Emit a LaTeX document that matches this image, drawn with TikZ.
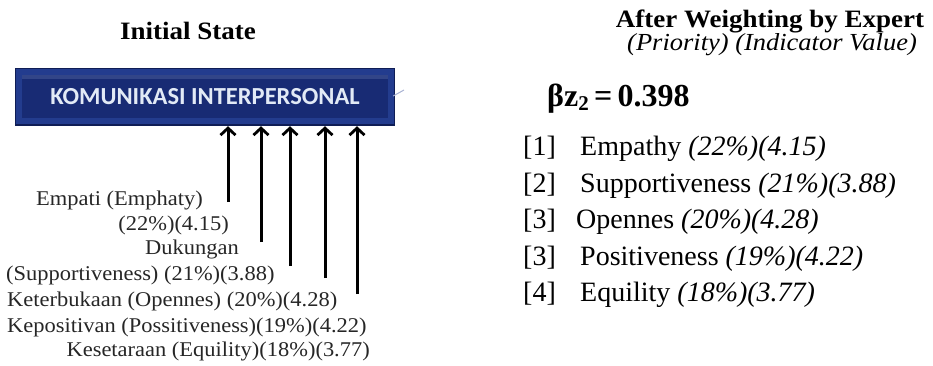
\documentclass[tikz,border=0pt]{standalone}
\usepackage{fontspec}
\setmainfont{Liberation Serif}
\newfontfamily\headfont[FakeStretch=1.08]{Liberation Serif}
\newfontfamily\labelfont[FakeStretch=1.07]{Liberation Serif}
\newfontfamily\boxfont{Carlito}
\usetikzlibrary{arrows.meta}
\definecolor{navyout}{HTML}{233C8E}
\definecolor{navyin}{HTML}{182B74}
\definecolor{navyrim}{HTML}{0F1D55}
\definecolor{boxtext}{HTML}{E2EAF6}
\definecolor{labelgray}{HTML}{262626}
\tikzset{
  heading/.style={inner sep=0pt, font=\headfont\bfseries\fontsize{25}{28}\selectfont},
  subheading/.style={inner sep=0pt, font=\headfont\itshape\fontsize{24.5}{27}\selectfont},
  factor/.style={inner sep=0pt, text=labelgray, font=\labelfont\fontsize{21}{24}\selectfont},
  rank/.style={inner sep=0pt, font=\fontsize{28}{31}\selectfont},
  link/.style={line width=3pt, -{Straight Barb[length=7pt,width=15pt,line width=2.8pt]}}
}
\begin{document}
\begin{tikzpicture}[x=1pt,y=-1pt]
\useasboundingbox (0,0) rectangle (933,365);

% headings
\node[heading] (h1) at (188,31) {Initial State};
\node[heading] (h2) at (770,21) {After Weighting by Expert};
\node[subheading] (h3) at (772,45) {(Priority) (Indicator Value)};

% construct box with a bevelled frame
\fill[navyrim] (15,68) rectangle (395,126);
\fill[navyout] (16,69) rectangle (394,124);
\fill[navyin] (22,75) rectangle (388,118);
\fill[navyout!70!white, opacity=0.35] (22,75) rectangle (388,79);
\node[inner sep=0pt, minimum width=380pt, minimum height=58pt,
      text=boxtext, font=\boxfont\bfseries\fontsize{24.5}{27}\selectfont]
      (box) at (205,97) {KOMUNIKASI INTERPERSONAL};
\coordinate (cut) at (404,90);
\draw[navyout!40!white, line width=1pt] (box.east) ++(-2pt,1pt) -- (cut);

% indicator labels
\node[factor, anchor=east] (f1a) at (203,200) {Empati (Emphaty)};
\node[factor, anchor=east] (f1b) at (229,225) {(22\%)(4.15)};
\node[factor, anchor=east] (f2a) at (239,249) {Dukungan};
\node[factor, anchor=west] (f2b) at (6,275) {(Supportiveness) (21\%)(3.88)};
\node[factor, anchor=west] (f3) at (7,301) {Keterbukaan (Opennes) (20\%)(4.28)};
\node[factor, anchor=west] (f4) at (7,327) {Kepositivan (Possitiveness)(19\%)(4.22)};
\node[factor, anchor=east] (f5) at (370,351) {Kesetaraan (Equility)(18\%)(3.77)};

% arrows into the construct
\coordinate (a1) at (228,202);
\coordinate (a2) at (261,242);
\coordinate (a3) at (290,266);
\coordinate (a4) at (325,278);
\coordinate (a5) at (357,294);
\foreach \i in {1,...,5}
  \draw[link] (a\i) -- (a\i |- box.south);

% weighted result
\node[inner sep=0pt, anchor=west, font=\bfseries\fontsize{32}{36}\selectfont]
  (beta) at (547,99) {βz\raisebox{-0.12em}{\fontsize{21}{23}\selectfont 2}\,=\,0.398};

\node[rank, anchor=base west] (r1) at (523,155) {[1]};
\node[rank, anchor=base west] (r2) at (523,192) {[2]};
\node[rank, anchor=base west] (r3) at (523,228) {[3]};
\node[rank, anchor=base west] (r4) at (523,265) {[3]};
\node[rank, anchor=base west] (r5) at (523,301) {[4]};
\node[rank, anchor=base west] (e1) at (580,155) {Empathy \textit{(22\%)(4.15)}};
\node[rank, anchor=base west] (e2) at (580,192) {Supportiveness \textit{(21\%)(3.88)}};
\node[rank, anchor=base west] (e3) at (576,228) {Opennes \textit{(20\%)(4.28)}};
\node[rank, anchor=base west] (e4) at (580,265) {Positiveness \textit{(19\%)(4.22)}};
\node[rank, anchor=base west] (e5) at (580,301) {Equility \textit{(18\%)(3.77)}};
\end{tikzpicture}
\end{document}
